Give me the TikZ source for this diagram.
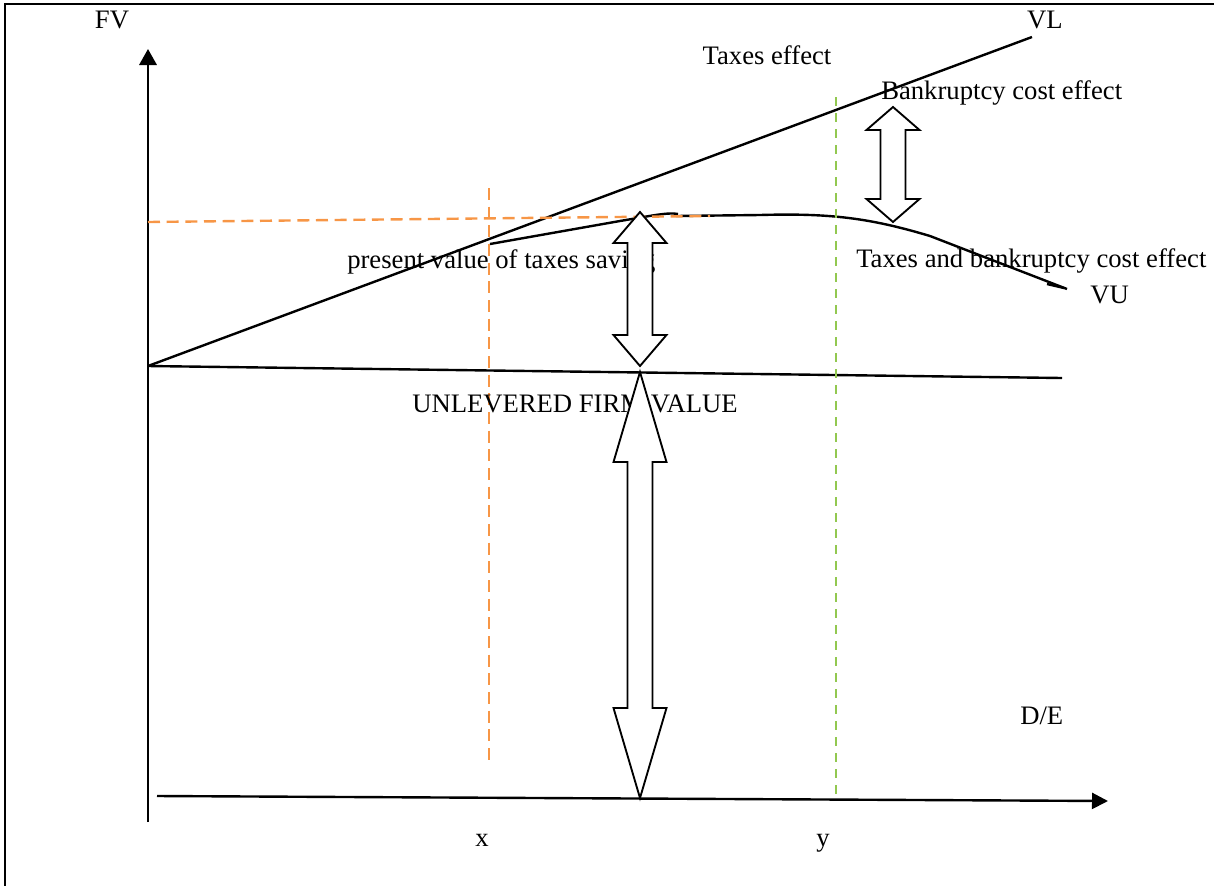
\documentclass[tikz,border=0pt]{standalone}
\usepackage{fontspec}
\setmainfont{Liberation Serif}
\usetikzlibrary{arrows.meta}
\definecolor{dashorange}{RGB}{247,150,70}
\definecolor{dashgreen}{RGB}{146,200,80}
\tikzset{
  lbl/.style={inner sep=0pt, font=\fontsize{20}{24}\selectfont},
  curve/.style={line width=1.8pt},
}
% block double arrow: centre x, top tip, bottom tip, head length
\newcommand{\dblarrow}[4]{%
  \draw [line width=1.4pt, fill=white] (#1,#2) -- (#1+26.5,#2+#4) -- (#1+12.5,#2+#4) -- (#1+12.5,#3-#4) -- (#1+26.5,#3-#4) -- (#1,#3) -- (#1-26.5,#3-#4) -- (#1-12.5,#3-#4) -- (#1-12.5,#2+#4) -- (#1-26.5,#2+#4) -- cycle ;}
\begin{document}
\begin{tikzpicture}[x=0.75pt,y=0.75pt,yscale=-1,xscale=1]
    \useasboundingbox (0,0) rectangle (1214,886);
    \draw [line width=2.2pt] (1214,4) -- (5,4) -- (5,886) ;
    % axes
    \coordinate (O) at (148,366);
    \draw [curve, -{Triangle[length=12pt,width=13pt]}] (148,822) -- (148,49) ;
    \draw [curve, -{Triangle[length=12pt,width=12pt]}] (157,796) -- (1108,801) ;
    % VL and unlevered value
    \draw [curve] (O) -- (1032,37) ;
    \draw [curve] (O) -- (1062,378) ;
    % VU
    \draw [curve] (490,244) -- (620,221) .. controls (650,216) and (668,212) .. (678,214) ;
    \draw [curve] (676,216) -- (760,215) .. controls (830,213) and (870,218) .. (930,236) -- (1067,289) ;
    \draw [curve] (1047,284) -- (1064,288) ;
    % dashed guides
    \draw [curve, dashorange, dash pattern=on 9pt off 5pt] (148,222) -- (710,216) ;
    \draw [curve, dashorange, dash pattern=on 9pt off 5pt] (489,188) -- (489,760) ;
    \draw [line width=2pt, dashgreen, dash pattern=on 7pt off 5pt] (836,97) -- (836,800) ;

    \draw (112,20) node (fv) [lbl] {FV};
    \draw (1045,20) node (vl) [lbl] {VL};
    \draw (767,55) node (taxeff) [lbl] {Taxes effect};
    \draw (881,99) node (bankeff) [lbl, anchor=base west] {Bankruptcy cost effect};
    \draw (347,268) node (pvts) [lbl, anchor=base west] {present value of taxes saving};
    \draw (856,267) node (tbeff) [lbl, anchor=base west] {Taxes and bankruptcy cost effect};
    \draw (1090,303) node (vu) [lbl, anchor=base west] {VU};
    \draw (412,412) node (ufv) [lbl, anchor=base west] {UNLEVERED FIRM VALUE};
    \draw (1020,724) node (de) [lbl, anchor=base west] {D/E};
    \draw (482,846) node (xlab) [lbl, anchor=base] {x};
    \draw (823,846) node (ylab) [lbl, anchor=base] {y};

    \dblarrow{640}{212}{366}{31}
    \dblarrow{893}{107}{222}{23}
    \dblarrow{640}{372}{798}{90}
\end{tikzpicture}
\end{document}
